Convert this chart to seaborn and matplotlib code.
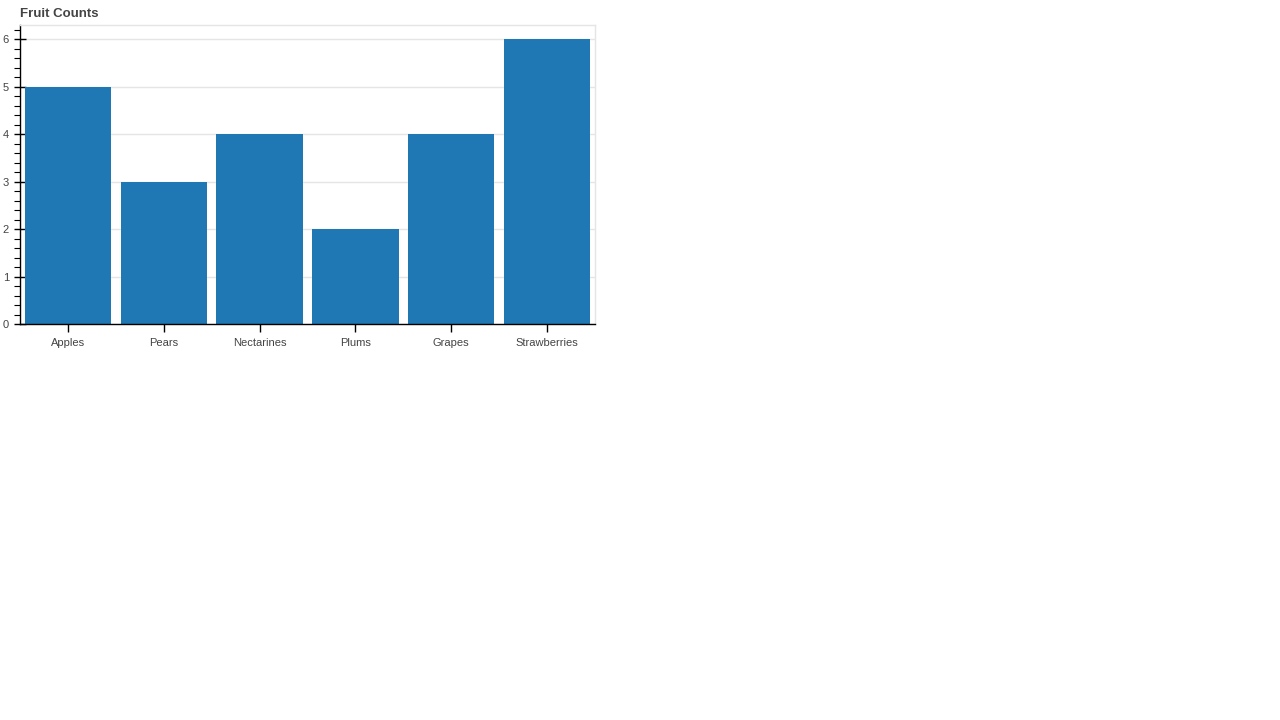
import matplotlib
matplotlib.use("Agg")
import matplotlib.pyplot as plt
import seaborn as sns
from matplotlib.ticker import MultipleLocator

fruits = ['Apples', 'Pears', 'Nectarines', 'Plums', 'Grapes', 'Strawberries']
counts = [5, 3, 4, 2, 4, 6]

sns.set_style("white")
plt.rcParams['font.family'] = ['Liberation Sans', 'DejaVu Sans']

fig = plt.figure(figsize=(12.8, 7.2), dpi=100)
ax = fig.add_axes([20 / 1280, (720 - 324) / 720, 575 / 1280, 299 / 720])

sns.barplot(x=fruits, y=counts, color='#1f77b4', saturation=1, width=0.9,
            edgecolor='none', ax=ax, zorder=2)

ax.set_xlim(-0.5, 5.5)
ax.set_ylim(0, 6.3)
ax.yaxis.set_major_locator(MultipleLocator(1))
ax.yaxis.set_minor_locator(MultipleLocator(0.2))
ax.grid(axis='y', color='#e5e5e5', linewidth=1, zorder=0)
ax.set_axisbelow(True)

for side in ['top', 'right']:
    ax.spines[side].set_color('#e5e5e5')
    ax.spines[side].set_linewidth(1)
for side in ['left', 'bottom']:
    ax.spines[side].set_color('black')
    ax.spines[side].set_linewidth(1)

ax.tick_params(axis='y', which='major', left=True, direction='inout', length=8, width=1,
               color='black', labelsize=8, labelcolor='#444444', pad=4)
ax.tick_params(axis='y', which='minor', left=True, direction='out', length=4, width=0.8,
               color='black')
ax.tick_params(axis='x', which='major', bottom=True, direction='out', length=6, width=1,
               color='black', labelsize=8, labelcolor='#444444', pad=4)
ax.set_xlabel('')
ax.set_ylabel('')

fig.text(20 / 1280, 1 - 14 / 720, 'Fruit Counts', fontsize=9.5, fontweight='bold',
         color='#444444', ha='left', va='center')

fig.savefig('out.png', dpi=100)
